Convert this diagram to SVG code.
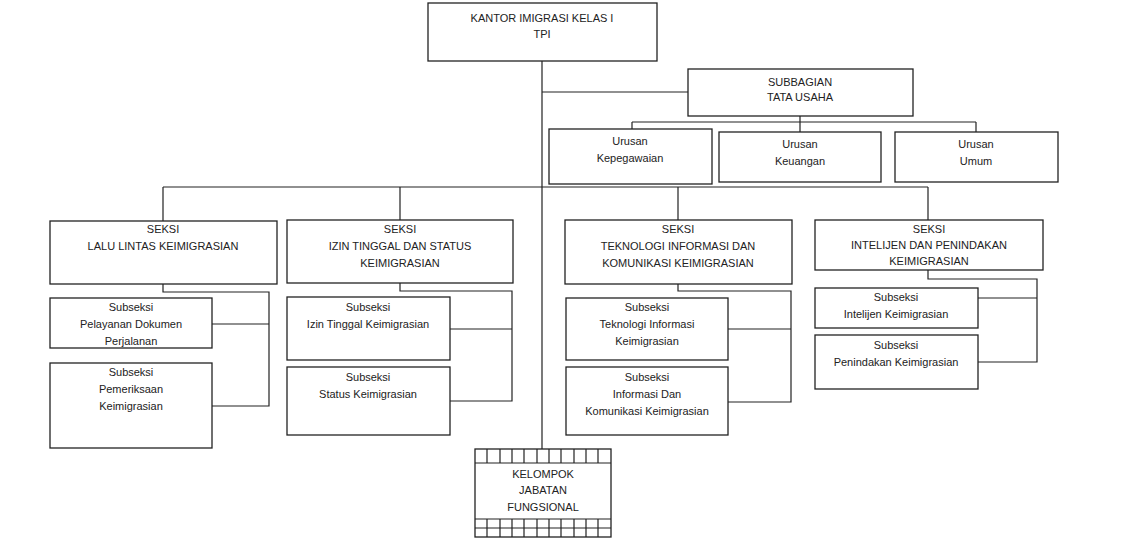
<svg xmlns="http://www.w3.org/2000/svg" width="1121" height="551" viewBox="0 0 1121 551">
<style>
rect{fill:#fff;stroke:#222;stroke-width:1.3}
.c path,.g path{fill:none;stroke:#222;stroke-width:1.2}
text{font-family:"Liberation Sans",Arial,sans-serif;font-size:11px;fill:#222;text-anchor:middle}
</style>
<rect x="0" y="0" width="1121" height="551" style="stroke:none"/>
<g class="c">
<path d="M542 61V450M542 92H688M800 116V122M632 122H976M632 122V129M976 122V132M800 122V132"/>
<path d="M163 187H928M163 187V221M400 187V220M678 187V220M928 187V220"/>
<path d="M163 284V292H269V406H212M269 324H212"/>
<path d="M400 283V291H512V401H450M512 329H450"/>
<path d="M678 284V291H791V402H728M791 329H728"/>
<path d="M928 270V279H1037V362H978M1037 298H978"/>
</g>
<g id="kantor"><rect x="428" y="3" width="229" height="58"/><text x="542" y="22">KANTOR IMIGRASI KELAS I</text><text x="542" y="38">TPI</text></g>
<g id="subbagian"><rect x="688" y="69" width="225" height="47"/><text x="800" y="86">SUBBAGIAN</text><text x="800" y="101">TATA USAHA</text></g>
<g id="kepegawaian"><rect x="549" y="129" width="163" height="55"/><text x="630" y="145">Urusan</text><text x="630" y="162">Kepegawaian</text></g>
<g id="keuangan"><rect x="719" y="132" width="162" height="50"/><text x="800" y="148">Urusan</text><text x="800" y="165">Keuangan</text></g>
<g id="umum"><rect x="895" y="132" width="163" height="50"/><text x="976" y="148">Urusan</text><text x="976" y="165">Umum</text></g>
<g id="seksi-lalu"><rect x="50" y="221" width="227" height="63"/><text x="163" y="233">SEKSI</text><text x="163" y="250">LALU LINTAS KEIMIGRASIAN</text></g>
<g id="seksi-izin"><rect x="287" y="220" width="226" height="63"/><text x="400" y="233">SEKSI</text><text x="400" y="250">IZIN TINGGAL DAN STATUS</text><text x="400" y="267">KEIMIGRASIAN</text></g>
<g id="seksi-tik"><rect x="565" y="220" width="227" height="64"/><text x="678" y="233">SEKSI</text><text x="678" y="250">TEKNOLOGI INFORMASI DAN</text><text x="678" y="267">KOMUNIKASI KEIMIGRASIAN</text></g>
<g id="seksi-intel"><rect x="815" y="220" width="228" height="50"/><text x="929" y="233">SEKSI</text><text x="929" y="249">INTELIJEN DAN PENINDAKAN</text><text x="929" y="265">KEIMIGRASIAN</text></g>
<g id="sub-pelayanan"><rect x="50" y="298" width="162" height="50"/><text x="131" y="311">Subseksi</text><text x="131" y="328">Pelayanan Dokumen</text><text x="131" y="345">Perjalanan</text></g>
<g id="sub-pemeriksaan"><rect x="50" y="363" width="162" height="85"/><text x="131" y="376">Subseksi</text><text x="131" y="393">Pemeriksaan</text><text x="131" y="410">Keimigrasian</text></g>
<g id="sub-izin"><rect x="287" y="297" width="163" height="63"/><text x="368" y="311">Subseksi</text><text x="368" y="328">Izin Tinggal Keimigrasian</text></g>
<g id="sub-status"><rect x="287" y="367" width="163" height="68"/><text x="368" y="381">Subseksi</text><text x="368" y="398">Status Keimigrasian</text></g>
<g id="sub-ti"><rect x="566" y="298" width="162" height="62"/><text x="647" y="311">Subseksi</text><text x="647" y="328">Teknologi Informasi</text><text x="647" y="345">Keimigrasian</text></g>
<g id="sub-ik"><rect x="566" y="367" width="162" height="68"/><text x="647" y="381">Subseksi</text><text x="647" y="398">Informasi Dan</text><text x="647" y="415">Komunikasi Keimigrasian</text></g>
<g id="sub-intelijen"><rect x="815" y="288" width="163" height="40"/><text x="896" y="301">Subseksi</text><text x="896" y="318">Intelijen Keimigrasian</text></g>
<g id="sub-penindakan"><rect x="815" y="335" width="163" height="54"/><text x="896" y="349">Subseksi</text><text x="896" y="366">Penindakan Keimigrasian</text></g>
<g id="fungsional"><rect x="475" y="449" width="136" height="88"/>
<g class="g"><path d="M475 463H611M475 519H611M475 528H611M487 449V463M500 449V463M512 449V463M524 449V463M537 449V463M549 449V463M561 449V463M574 449V463M586 449V463M598 449V463M487 519V537M500 519V537M512 519V537M524 519V537M537 519V537M549 519V537M561 519V537M574 519V537M586 519V537M598 519V537"/></g>
<text x="543" y="478">KELOMPOK</text><text x="543" y="494">JABATAN</text><text x="543" y="511">FUNGSIONAL</text></g>
</svg>
